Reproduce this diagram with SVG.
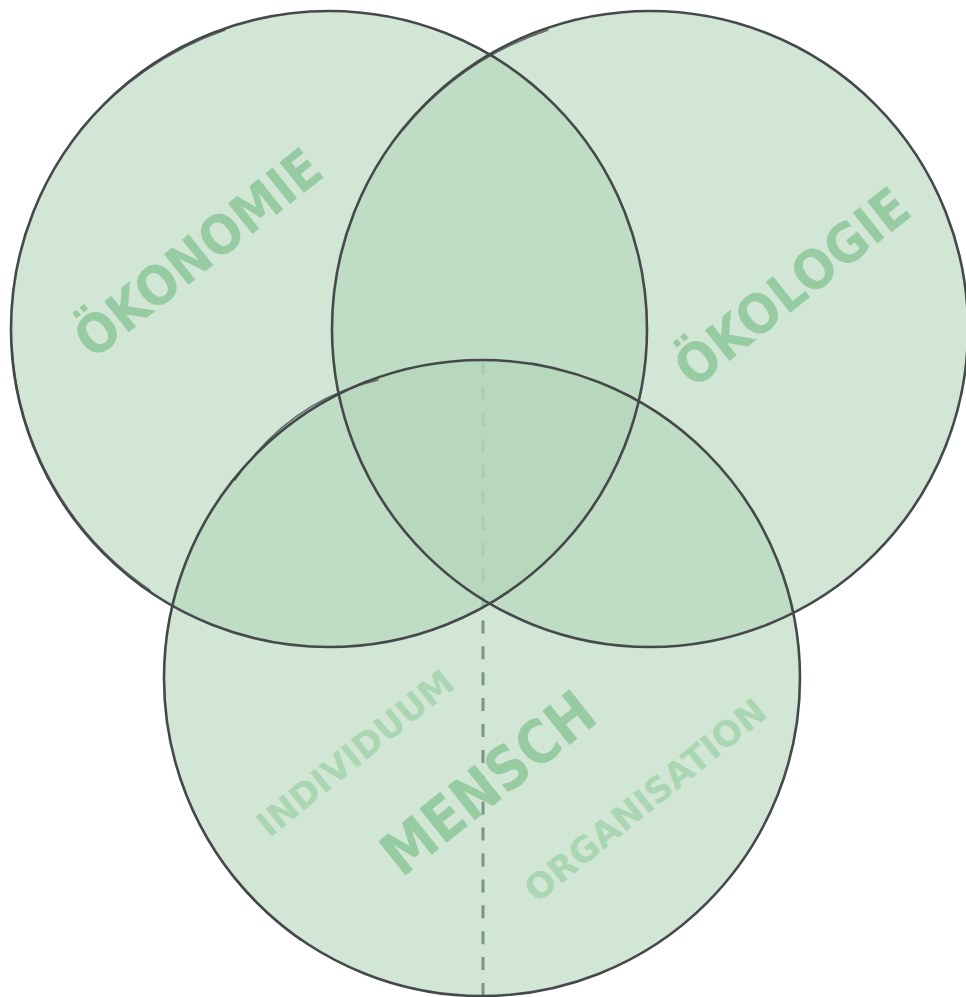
<svg xmlns="http://www.w3.org/2000/svg" width="966" height="997" viewBox="0 0 966 997">
<style>
.fill{fill:#b3d6b9;fill-opacity:0.6}
.ring{fill:none;stroke:#45494b;stroke-width:2.6;stroke-linecap:round}
.sk{fill:none;stroke:#45494b;stroke-width:1.4;stroke-linecap:round;opacity:0.8}
.lbl{font-family:"DejaVu Sans",sans-serif;font-weight:bold;text-anchor:middle;fill:#97cba1}
.sub{font-family:"DejaVu Sans",sans-serif;font-weight:bold;text-anchor:middle;fill:#aad6b2}
</style>
<rect width="966" height="997" fill="#ffffff"/>
<g id="fills">
<circle class="fill" cx="482" cy="678" r="318"/>
<line x1="483" y1="996" x2="483" y2="362" stroke="#7d9383" stroke-width="3" stroke-dasharray="13 12.9"/>
<circle class="fill" cx="329" cy="329" r="318"/>
<circle class="fill" cx="650" cy="329" r="318"/>
</g>
<g id="connectors"/>
<g id="node-oekonomie">
<circle class="ring" cx="329" cy="329" r="318" stroke-width="2.2"/>
<path class="sk" d="M80 130 Q140 60 225 30"/>
<path class="sk" d="M12 345 A317 317 0 0 0 150 590"/>
<text class="lbl" font-size="54" textLength="298" lengthAdjust="spacingAndGlyphs" transform="translate(198,253) rotate(-38.5)" y="19">ÖKONOMIE</text>
</g>
<g id="node-oekologie">
<circle class="ring" cx="650" cy="329" r="318" stroke-width="3.2"/>
<path class="sk" d="M403 130 Q460 60 548 30"/>
<text class="lbl" font-size="54" textLength="282" lengthAdjust="spacingAndGlyphs" transform="translate(792,287) rotate(-38.5)" y="19">ÖKOLOGIE</text>
</g>
<g id="node-mensch">
<circle class="ring" cx="482" cy="678" r="318" stroke-width="2.8"/>
<path class="sk" d="M235 480 Q290 400 378 380"/>
<path class="sk" d="M175 760 A320 320 0 0 0 300 940"/>
<text class="lbl" font-size="60" textLength="254" lengthAdjust="spacingAndGlyphs" transform="translate(488,783) rotate(-38.5)" y="21">MENSCH</text>
<text class="sub" font-size="35" textLength="241" lengthAdjust="spacingAndGlyphs" transform="translate(355,753) rotate(-39)" y="12.5">INDIVIDUUM</text>
<text class="sub" font-size="35" textLength="299" lengthAdjust="spacingAndGlyphs" transform="translate(645,800) rotate(-39)" y="12.5">ORGANISATION</text>
</g>
</svg>
